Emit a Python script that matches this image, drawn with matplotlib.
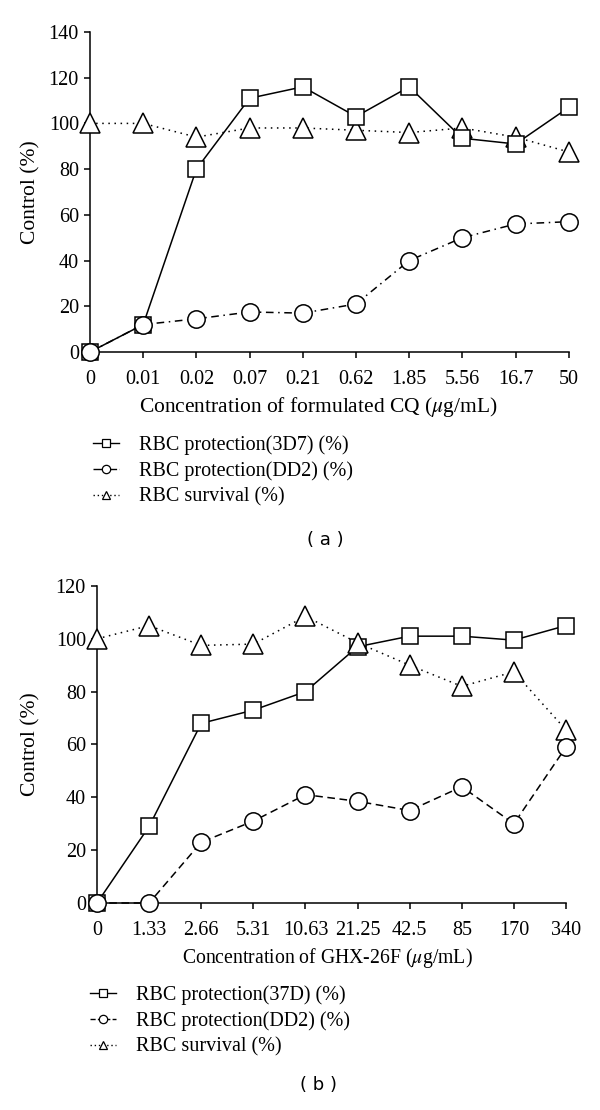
import matplotlib.pyplot as plt
from matplotlib.lines import Line2D

# panel (a): formulated CQ
conc_a = ["0", "0.01", "0.02", "0.07", "0.21", "0.62", "1.85", "5.56", "16.7", "50"]
prot_3d7 = [0, 12, 80, 111, 116, 103, 116, 93.5, 91, 107]
prot_dd2_a = [0, 12, 14.5, 17.5, 17, 21, 40, 50, 56, 57]
survival_a = [100, 100, 94, 98, 98, 97, 96, 98, 94, 87.5]

# panel (b): GHX-26F
conc_b = ["0", "1.33", "2.66", "5.31", "10.63", "21.25", "42.5", "85", "170", "340"]
prot_37d = [0, 29, 68, 73, 80, 97, 101, 101, 99.5, 105]
prot_dd2_b = [0, 0, 23, 31, 41, 38.5, 35, 44, 30, 59]
survival_b = [100, 105, 97.5, 98, 108.5, 98.5, 90, 82, 87.5, 65.5]

plt.rcParams.update({
    "font.family": "Liberation Serif",
    "font.size": 14.5,
    "axes.linewidth": 1.1,
    "xtick.major.width": 1.1,
    "ytick.major.width": 1.1,
    "xtick.major.size": 4,
    "ytick.major.size": 4,
    "mathtext.fontset": "stix",
})

W, H = 600, 1110
fig = plt.figure(figsize=(W / 100, H / 100), dpi=100)

common = dict(color="black", lw=1.1, mfc="white", mec="black", mew=1.1,
              clip_on=False)


def setup(ax, labels, ymax, xlabel, xlab_size, xlab_center):
    ax.spines["top"].set_visible(False)
    ax.spines["right"].set_visible(False)
    ax.set_xlim(0, len(labels) - 1)
    ax.set_ylim(0, ymax)
    ax.set_xticks(range(len(labels)))
    ax.set_xticklabels(labels)
    ax.set_yticks(range(0, ymax + 1, 20))
    ax.tick_params(axis="x", direction="out", pad=9, labelsize=14.5)
    ax.tick_params(axis="y", direction="out", pad=4, labelsize=14.5)
    ax.set_xlabel(xlabel, fontsize=xlab_size)
    ax.set_ylabel("Control (%)", fontsize=15.5)
    # pin the axis labels to pixel positions
    bb = ax.get_position()
    ax.yaxis.set_label_coords((40 / W - bb.x0) / bb.width, 0.5)
    ax.xaxis.set_label_coords((xlab_center / W - bb.x0) / bb.width,
                              -0.135 * 0.2883 / bb.height)


# --- panel (a)
ax1 = fig.add_axes([0.150, 0.6829, 0.798, 0.2883])
x = range(len(conc_a))
ax1.plot(x, survival_a, ls=(0, (1, 3)), marker="^", ms=14, zorder=3, **common)
ax1.plot(x, prot_3d7, ls="-", marker="s", ms=12, zorder=4, **common)
ax1.plot(x, prot_dd2_a, ls=(0, (5, 3, 1, 3)), marker="o", ms=12.5, zorder=5,
         **common)
setup(ax1, conc_a, 140, r"Concentration of formulated CQ ($\mu$g/mL)", 15.5, 318)

# --- panel (b)
ax2 = fig.add_axes([0.1617, 0.1865, 0.7816, 0.2856])
x = range(len(conc_b))
ax2.plot(x, prot_37d, ls="-", marker="s", ms=12, zorder=3, **common)
ax2.plot(x, survival_b, ls=(0, (1, 3)), marker="^", ms=14, zorder=4, **common)
ax2.plot(x, prot_dd2_b, ls=(0, (5, 3)), marker="o", ms=12.5, zorder=5, **common)
setup(ax2, conc_b, 120, r"Concentration of GHX-26F ($\mu$g/mL)", 14.2, 327)


def handles(dd2_ls):
    kw = dict(color="black", lw=1.0, mfc="white", mec="black", mew=0.9, ms=6)
    return [
        Line2D([], [], ls="-", marker="s", **kw),
        Line2D([], [], ls=dd2_ls, marker="o", **kw),
        Line2D([], [], ls=(0, (1, 2)), marker="^", **kw),
    ]


leg_kw = dict(loc="upper left", frameon=False, fontsize=14.5, handlelength=1.3,
              handletextpad=1.0, labelspacing=0.32, borderaxespad=0,
              borderpad=0)
fig.legend(handles("-."), ["RBC protection(3D7) (%)", "RBC protection(DD2) (%)",
                           "RBC survival (%)"],
           bbox_to_anchor=(93 / W, 1 - 435 / H), **leg_kw)
fig.legend(handles("--"), ["RBC protection(37D) (%)", "RBC protection(DD2) (%)",
                           "RBC survival (%)"],
           bbox_to_anchor=(90 / W, 1 - 985 / H), **leg_kw)

fig.text(325 / W, 1 - 540 / H, "( a )", family="DejaVu Sans", fontsize=13,
         ha="center", va="center")
fig.text(318 / W, 1 - 1085 / H, "( b )", family="DejaVu Sans", fontsize=13,
         ha="center", va="center")

fig.savefig("out.png", dpi=100)
